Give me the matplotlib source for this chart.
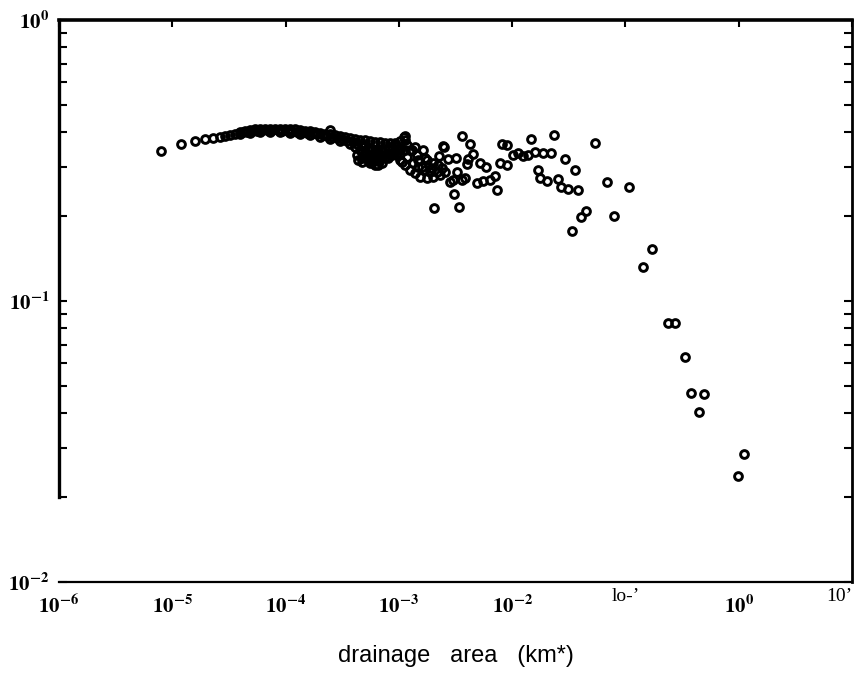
import matplotlib
matplotlib.use("Agg")
import matplotlib.pyplot as plt
from matplotlib.ticker import LogLocator, NullFormatter

# ---- data (drainage area km^2, ratio) ----
area = [
    7.95e-6, 1.19e-5, 1.59e-5, 1.94e-5, 2.29e-5, 2.64e-5, 2.92e-5, 3.23e-5, 3.58e-5,
    # upper edge of dense band
    3.96e-5, 4.38e-5, 4.85e-5, 5.37e-5, 5.94e-5, 6.58e-5, 7.29e-5, 8.06e-5, 8.93e-5,
    9.88e-5, 1.09e-4, 1.21e-4, 1.34e-4, 1.48e-4, 1.64e-4, 1.82e-4, 2.01e-4, 2.23e-4,
    2.47e-4, 2.73e-4, 3.02e-4, 3.34e-4, 3.70e-4, 4.10e-4, 4.54e-4, 5.02e-4, 5.56e-4,
    6.15e-4, 6.81e-4, 7.54e-4, 8.35e-4, 9.24e-4, 1.02e-3, 1.13e-3,
    # lower edge of dense band
    3.96e-5, 4.85e-5, 5.94e-5, 7.29e-5, 8.93e-5, 1.09e-4, 1.34e-4, 1.64e-4, 2.01e-4,
    2.47e-4, 3.02e-4, 3.70e-4, 4.10e-4, 4.54e-4, 5.02e-4, 5.56e-4, 6.15e-4, 6.81e-4,
    7.54e-4, 8.35e-4, 9.24e-4, 1.02e-3, 1.13e-3,
    # middle of dense band
    4.17e-5, 4.61e-5, 5.10e-5, 5.65e-5, 6.25e-5, 6.92e-5, 7.66e-5, 8.49e-5, 9.39e-5,
    1.04e-4, 1.15e-4, 1.27e-4, 1.41e-4, 1.56e-4, 1.73e-4, 1.91e-4, 2.12e-4, 2.34e-4,
    2.59e-4, 2.87e-4, 3.18e-4, 3.52e-4, 3.90e-4, 4.31e-4, 4.77e-4, 5.29e-4, 5.85e-4,
    6.48e-4, 7.17e-4, 7.94e-4, 8.78e-4, 9.72e-4,
    # blob near 1e-3
    4.36e-4, 4.73e-4, 5.79e-4, 6.54e-4, 5.02e-4, 5.56e-4, 6.15e-4, 7.09e-4, 8.01e-4,
    9.24e-4, 5.34e-4, 6.81e-4, 5.56e-4, 2.47e-4, 1.13e-3,
    4.31e-4, 4.77e-4, 5.29e-4, 5.85e-4, 6.48e-4, 7.17e-4, 7.94e-4,
    9.72e-4, 1.07e-3, 1.18e-3, 1.31e-3, 1.45e-3, 1.47e-3, 1.70e-3, 1.70e-3, 1.96e-3, 2.40e-3,
    6.15e-4, 7.09e-4, 8.01e-4, 8.78e-4, 4.77e-4, 6.48e-4,
    # scattered 1e-3 .. 1e-2
    1.11e-3, 3.61e-3, 4.24e-3, 2.45e-3, 2.50e-3, 8.13e-3, 9.00e-3, 1.39e-3, 1.63e-3,
    4.51e-3, 2.71e-3, 3.19e-3, 2.26e-3, 4.07e-3, 5.20e-3, 5.87e-3, 7.80e-3, 9.00e-3,
    3.99e-3, 2.00e-3, 2.21e-3, 3.26e-3, 2.83e-3, 3.00e-3, 3.61e-3, 3.83e-3, 4.89e-3,
    5.52e-3, 6.37e-3, 7.05e-3, 7.34e-3, 3.06e-3, 2.04e-3, 3.39e-3,
    1.25e-3, 1.39e-3, 1.54e-3, 1.77e-3, 2.00e-3, 2.31e-3, 2.55e-3,
    1.18e-3, 1.33e-3, 1.60e-3, 1.77e-3, 1.88e-3, 2.17e-3,
    1.25e-3, 1.47e-3, 1.13e-3, 1.02e-3,
    # 1e-2 .. 1e-1
    1.47e-2, 2.34e-2, 5.38e-2, 1.02e-2, 1.13e-2, 1.25e-2, 1.38e-2, 1.59e-2, 1.87e-2,
    2.20e-2, 2.92e-2, 3.58e-2, 1.69e-2, 1.76e-2, 2.03e-2, 2.54e-2, 2.70e-2, 3.11e-2,
    3.81e-2, 6.87e-2, 4.48e-2, 4.05e-2, 3.37e-2, 1.07e-1, 7.91e-2,
    # tail
    0.171, 0.143, 0.237, 0.274, 0.335, 0.379, 0.493, 0.445, 1.11, 0.984,
]
ratio = [
    0.342, 0.362, 0.371, 0.377, 0.380, 0.383, 0.387, 0.390, 0.393,
    0.399, 0.403, 0.406, 0.408, 0.409, 0.409, 0.411, 0.411, 0.409,
    0.409, 0.409, 0.408, 0.406, 0.403, 0.403, 0.399, 0.396, 0.393,
    0.393, 0.390, 0.387, 0.383, 0.380, 0.377, 0.374, 0.374, 0.371,
    0.368, 0.368, 0.365, 0.365, 0.365, 0.371, 0.374,
    0.393, 0.396, 0.399, 0.399, 0.399, 0.396, 0.393, 0.390, 0.383,
    0.377, 0.371, 0.362, 0.353, 0.345, 0.336, 0.328, 0.323, 0.318,
    0.326, 0.331, 0.339, 0.345, 0.345,
    0.398, 0.399, 0.403, 0.404, 0.406, 0.406, 0.406, 0.406, 0.404,
    0.403, 0.403, 0.401, 0.399, 0.396, 0.396, 0.393, 0.390, 0.387,
    0.383, 0.380, 0.377, 0.371, 0.368, 0.362, 0.356, 0.350, 0.345,
    0.342, 0.342, 0.348, 0.353, 0.356,
    0.318, 0.313, 0.313, 0.305, 0.359, 0.350, 0.345, 0.345, 0.350,
    0.359, 0.323, 0.331, 0.310, 0.406, 0.387,
    0.331, 0.323, 0.318, 0.320, 0.315, 0.326, 0.336,
    0.331, 0.313, 0.359, 0.345, 0.331, 0.300, 0.293, 0.323, 0.298, 0.298,
    0.305, 0.310, 0.323, 0.331, 0.342, 0.336,
    0.383, 0.387, 0.362, 0.356, 0.353, 0.362, 0.359, 0.353, 0.345,
    0.334, 0.320, 0.323, 0.328, 0.320, 0.310, 0.300, 0.310, 0.305,
    0.307, 0.310, 0.305, 0.288, 0.265, 0.270, 0.270, 0.274, 0.263,
    0.267, 0.270, 0.278, 0.248, 0.240, 0.214, 0.216,
    0.293, 0.285, 0.276, 0.274, 0.276, 0.281, 0.288,
    0.326, 0.310, 0.300, 0.318, 0.288, 0.288,
    0.345, 0.318, 0.305, 0.318,
    0.377, 0.390, 0.365, 0.331, 0.336, 0.328, 0.331, 0.339, 0.336,
    0.336, 0.320, 0.293, 0.293, 0.274, 0.267, 0.272, 0.254, 0.250,
    0.248, 0.265, 0.209, 0.199, 0.177, 0.254, 0.201,
    0.153, 0.132, 0.0835, 0.0835, 0.0632, 0.0471, 0.0467, 0.0403, 0.0285, 0.0238,
]

x_ticks = [1e-6, 1e-5, 1e-4, 1e-3, 1e-2, 1e-1, 1e0, 1e1]
x_ticklabels = [r"$\mathbf{10^{-6}}$", r"$\mathbf{10^{-5}}$", r"$\mathbf{10^{-4}}$",
                r"$\mathbf{10^{-3}}$", r"$\mathbf{10^{-2}}$", "lo-\u2019",
                r"$\mathbf{10^{0}}$", "10\u2019"]
y_ticks = [1e-2, 1e-1, 1e0]
y_ticklabels = [r"$\mathbf{10^{-2}}$", r"$\mathbf{10^{-1}}$", r"$\mathbf{10^{0}}$"]
x_label = "drainage   area   (km*)"

plt.rcParams["mathtext.fontset"] = "stix"

fig = plt.figure(figsize=(8.63, 6.87), dpi=100)
ax = fig.add_axes([59 / 863, 1 - 582 / 687, 793 / 863, 562 / 687])

ax.plot(area, ratio, linestyle="none", marker="o", markersize=5.6,
        markerfacecolor="none", markeredgecolor="black", markeredgewidth=2.1)

ax.set_xscale("log")
ax.set_yscale("log")
ax.set_xlim(1e-6, 1e1)
ax.set_ylim(1e-2, 1e0)

# spines
ax.spines["left"].set_linewidth(2.4)
ax.spines["left"].set_bounds(0.02, 1.0)
ax.spines["top"].set_linewidth(2.6)
ax.spines["right"].set_linewidth(2.0)
ax.spines["bottom"].set_linewidth(1.6)

# x ticks: labels at bottom, tick marks on top (inward)
ax.set_xticks(x_ticks)
ax.set_xticklabels(x_ticklabels)
ax.xaxis.set_minor_locator(plt.NullLocator())
ax.tick_params(axis="x", which="major", bottom=False, top=True, direction="in",
               length=5, width=1.5, pad=9, labelsize=15)
for lab in ax.get_xticklabels():
    if not lab.get_text().startswith("$"):
        lab.set_fontfamily("Liberation Serif")
        lab.set_fontsize(14)
        lab.set_y(0.012)
xlabs = ax.get_xticklabels()
xlabs[-1].set_horizontalalignment("right")
xlabs[-1].set_x(1e1)

# y ticks
ax.set_yticks(y_ticks)
ax.set_yticklabels(y_ticklabels)
ax.yaxis.set_minor_locator(LogLocator(base=10, subs=range(2, 10)))
ax.yaxis.set_minor_formatter(NullFormatter())
ax.tick_params(axis="y", which="both", left=True, right=True, direction="in",
               width=1.5)
ax.tick_params(axis="y", which="major", length=6, labelsize=15, pad=7)
ax.tick_params(axis="y", which="minor", length=6)

ax.set_xlabel(x_label, fontfamily="Liberation Sans", fontsize=17, labelpad=20)

fig.savefig("out.png", dpi=100)
